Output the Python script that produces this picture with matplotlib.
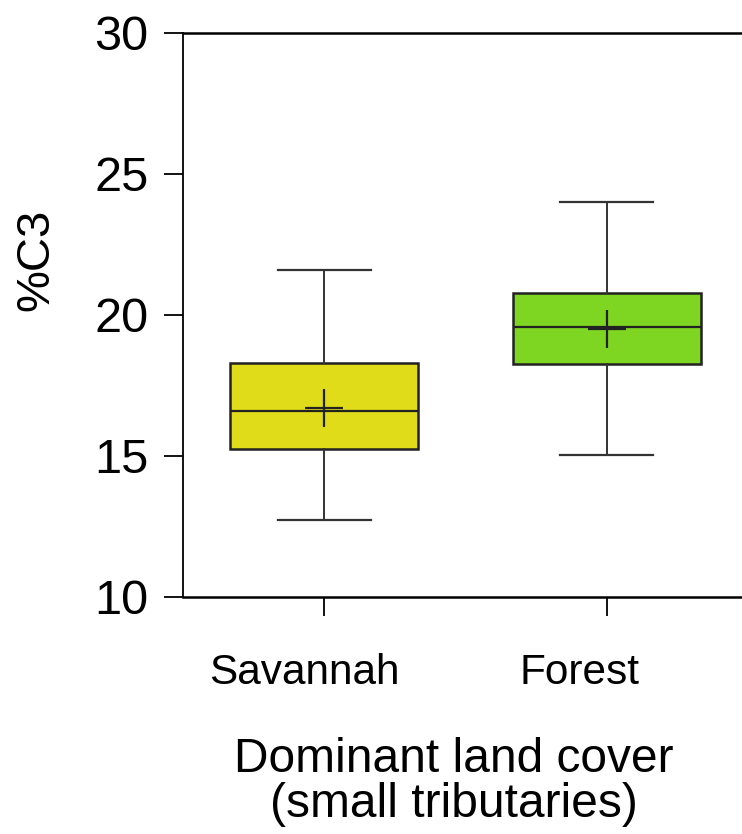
import numpy as np
import matplotlib
matplotlib.use("Agg")
import matplotlib.pyplot as plt
from matplotlib.transforms import ScaledTranslation

plt.rcParams['font.family'] = ['Liberation Sans', 'DejaVu Sans']

# box statistics
groups = ['Savannah', 'Forest']
q1 = [15.25, 18.25]
med = [16.60, 19.59]
q3 = [18.30, 20.79]
whislo = [12.73, 15.04]
whishi = [21.60, 24.00]
means = [16.71, 19.49]
colors = ['#E0DC1A', '#7ED622']

yticks = [10, 15, 20, 25, 30]

fig = plt.figure(figsize=(7.42, 8.34), dpi=100)
ax = fig.add_axes([183/742, 1-597/834, (748-183)/742, (597-33)/834])

stats = []
for i in range(len(groups)):
    stats.append(dict(label=groups[i], q1=q1[i], med=med[i], q3=q3[i],
                      whislo=whislo[i], whishi=whishi[i], mean=means[i], fliers=[]))

bp = ax.bxp(stats, positions=[1, 2], widths=0.667, patch_artist=True,
            showmeans=True, showfliers=False, capwidths=0.33,
            boxprops=dict(edgecolor='#222222', linewidth=1.8),
            medianprops=dict(color='#222222', linewidth=1.6),
            whiskerprops=dict(color='#333333', linewidth=1.4),
            capprops=dict(color='#333333', linewidth=1.6),
            meanprops=dict(marker='+', markersize=27, markeredgewidth=1.6,
                           markeredgecolor='#222222'))
for patch, c in zip(bp['boxes'], colors):
    patch.set_facecolor(c)

ax.set_xlim(0.5, 2.5)
ax.set_ylim(10, 30)
ax.set_yticks(yticks)
ax.spines['right'].set_visible(False)
for s in ['top', 'bottom']:
    ax.spines[s].set_linewidth(1.8)
ax.spines['left'].set_linewidth(1.3)
ax.tick_params(axis='y', length=14, width=1.3, pad=11, labelsize=35)
ax.tick_params(axis='x', length=14, width=1.3, pad=26, labelsize=30.5)

# category labels sit a bit left of their ticks in the original
for lab, dx in zip(ax.get_xticklabels(), [-20, -27]):
    lab.set_transform(lab.get_transform() + ScaledTranslation(dx/100, 0, fig.dpi_scale_trans))

fig.text(36/742, 1-260/834, '%C3', rotation=90, ha='center', va='center', fontsize=34)
fig.text(454/742, 1-772/834, 'Dominant land cover', ha='center', va='baseline', fontsize=34.5)
fig.text(454/742, 1-817/834, '(small tributaries)', ha='center', va='baseline', fontsize=34.5)

fig.savefig('out.png', dpi=100)
